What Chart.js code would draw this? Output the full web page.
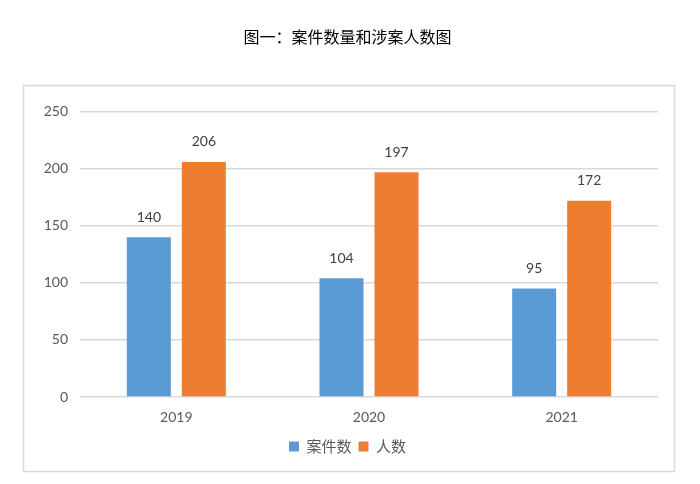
<!DOCTYPE html>
<html>
<head>
<meta charset="utf-8">
<script src="https://cdn.jsdelivr.net/npm/chart.js@4.4.0/dist/chart.umd.min.js"></script>
<style>
html,body{margin:0;padding:0;background:#fff;}
#wrap{width:700px;height:484px;position:relative;}
</style>
</head>
<body>
<div id="wrap"><canvas id="c" width="700" height="484"></canvas></div>
<script>
const titleText = '图一：案件数量和涉案人数图';
const categories = ['2019', '2020', '2021'];
const seriesNames = ['案件数', '人数'];
const caseCounts = [140, 104, 95];
const personCounts = [206, 197, 172];
const yTicks = [0, 50, 100, 150, 200, 250];

const frame = {
  id: 'frame',
  beforeDraw(chart) {
    const ctx = chart.ctx;
    ctx.save();
    ctx.fillStyle = '#ffffff';
    ctx.fillRect(0, 0, chart.width, chart.height);
    ctx.strokeStyle = '#d9d9d9';
    ctx.lineWidth = 1.5;
    ctx.strokeRect(23.5, 85.5, 651, 386);
    ctx.restore();
  }
};

const valueLabels = {
  id: 'valueLabels',
  afterDatasetsDraw(chart) {
    const ctx = chart.ctx;
    ctx.save();
    ctx.font = '14px Lato, "Liberation Sans", sans-serif';
    ctx.fillStyle = '#404040';
    ctx.textAlign = 'center';
    ctx.textBaseline = 'middle';
    chart.data.datasets.forEach((ds, i) => {
      const meta = chart.getDatasetMeta(i);
      meta.data.forEach((bar, j) => {
        ctx.fillText(String(ds.data[j]), bar.x, bar.y - 20);
      });
    });
    ctx.restore();
  }
};

new Chart(document.getElementById('c'), {
  type: 'bar',
  data: {
    labels: categories,
    datasets: [
      { label: seriesNames[0], data: caseCounts, backgroundColor: '#5B9BD5', barPercentage: 0.8, categoryPercentage: 0.571 },
      { label: seriesNames[1], data: personCounts, backgroundColor: '#ED7D31', barPercentage: 0.8, categoryPercentage: 0.571 }
    ]
  },
  options: {
    responsive: false,
    animation: false,
    devicePixelRatio: 1,
    layout: { padding: { left: 30, right: 35, top: 0, bottom: 20 } },
    plugins: {
      title: {
        display: true,
        text: titleText,
        color: '#000000',
        font: { family: '"Noto Sans CJK SC", sans-serif', size: 16, weight: 'normal' },
        padding: { top: 27, bottom: 65.5 }
      },
      legend: {
        position: 'bottom',
        labels: {
          color: '#595959',
          font: { family: '"Noto Sans CJK SC", sans-serif', size: 15 },
          boxWidth: 10,
          boxHeight: 10,
          padding: 7
        }
      },
      tooltip: { enabled: false }
    },
    scales: {
      x: {
        grid: { display: false, drawTicks: false },
        border: { display: false },
        ticks: { color: '#595959', font: { family: 'Lato, sans-serif', size: 14 }, padding: 12 },
        afterFit(scale) { scale.height = 35; }
      },
      y: {
        min: 0,
        max: 250,
        afterBuildTicks(scale) { scale.ticks = yTicks.map(v => ({ value: v })); },
        afterFit(scale) { scale.width = 50; },
        grid: { color: '#d9d9d9', lineWidth: 1.5, drawTicks: false },
        border: { display: false },
        ticks: { color: '#595959', font: { family: 'Lato, sans-serif', size: 14 }, padding: 12 }
      },
      yR: {
        position: 'right',
        display: true,
        grid: { display: false, drawTicks: false },
        border: { display: false },
        ticks: { display: false },
        afterFit(scale) { scale.width = 7; }
      }
    }
  },
  plugins: [frame, valueLabels]
});
</script>
</body>
</html>
